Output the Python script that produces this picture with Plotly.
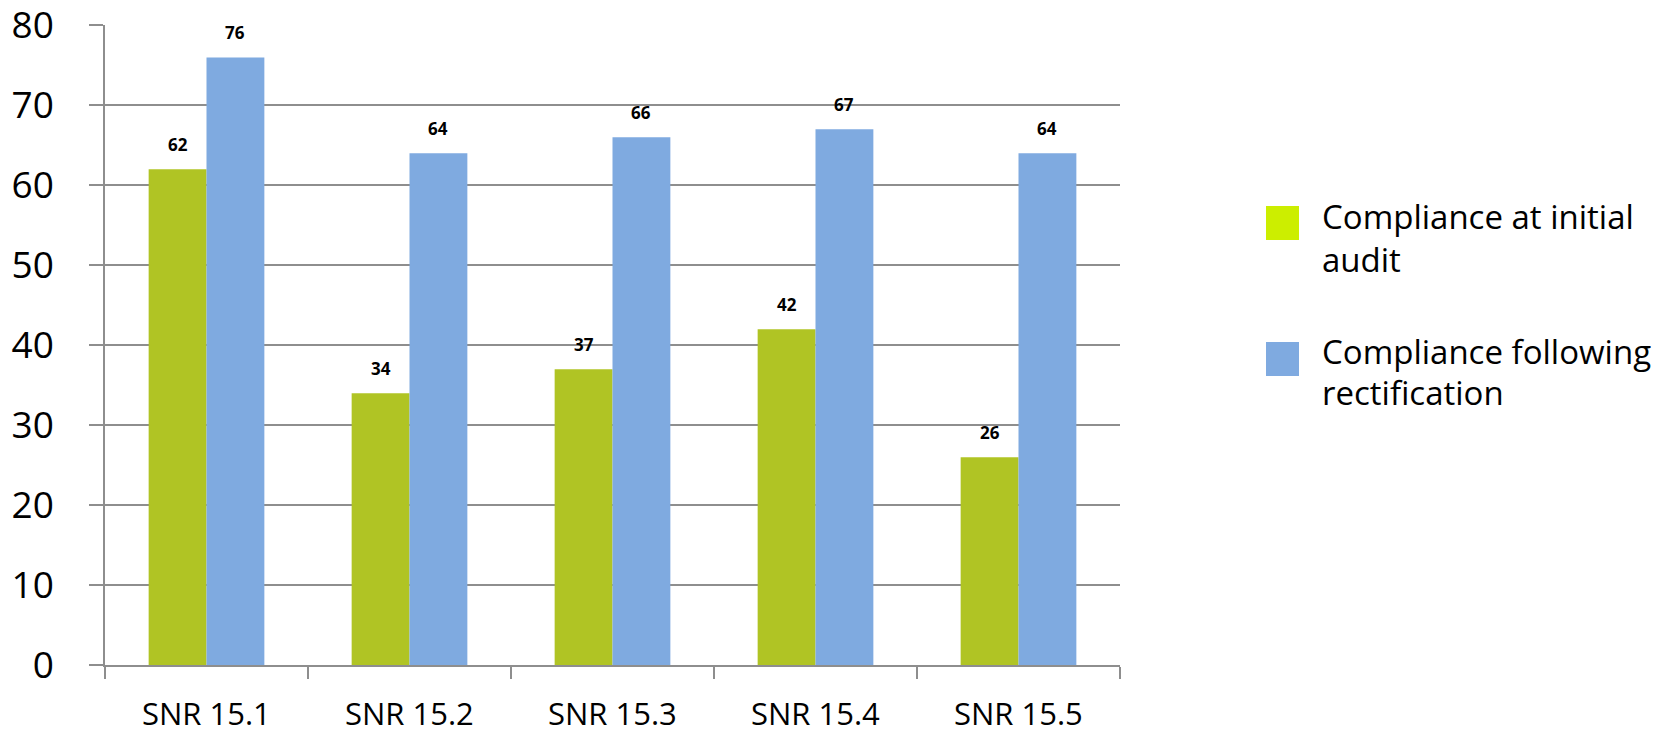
import plotly.graph_objects as go

categories = ["SNR 15.1", "SNR 15.2", "SNR 15.3", "SNR 15.4", "SNR 15.5"]
initial = [62, 34, 37, 42, 26]
rectified = [76, 64, 66, 67, 64]
series_lines = [["Compliance at initial", "audit"], ["Compliance following", "rectification"]]
y_ticks = [0, 10, 20, 30, 40, 50, 60, 70, 80]

GREEN = "#B0C424"
GREEN_LEG = "#CCEE00"
BLUE = "#7FAAE0"
GRID = "#8E8E8E"
FONT = "Open Sans"

OFF = 8  # default page body margin
W, H = 1666 - OFF, 729 - OFF
L, R, T, B = 105 - OFF, 546, 25 - OFF, 64
PW, PH = W - L - R, H - T - B

def px_x(p):
    return (p - OFF - L) / PW

def px_y(p):
    return 1 - (p - OFF - T) / PH

fig = go.Figure()
fig.add_trace(go.Bar(x=categories, y=initial, name="initial", marker=dict(color=GREEN, line=dict(width=0)), showlegend=False))
fig.add_trace(go.Bar(x=categories, y=rectified, name="rectified", marker=dict(color=BLUE, line=dict(width=0)), showlegend=False))

bargap = 0.43
bar_w = PW / len(categories) * (1 - bargap) / 2
annotations = []
for vals, sh in ((initial, -bar_w / 2), (rectified, bar_w / 2)):
    for c, v in zip(categories, vals):
        annotations.append(dict(x=c, y=v, xref="x", yref="y", text=f"<b>{v}</b>", showarrow=False,
                                xshift=sh, yshift=11, yanchor="bottom",
                                font=dict(family=FONT, size=17, color="#000")))

# category labels below the axis
for c in categories:
    annotations.append(dict(x=c, y=0, xref="x", yref="paper", text=c, showarrow=False,
                            yanchor="top", yshift=-25,
                            font=dict(family=FONT, size=31, color="#000")))

# legend drawn manually (large swatches)
shapes = []
leg_items = [(series_lines[0], GREEN_LEG, 206, [216, 259]), (series_lines[1], BLUE, 342, [351, 392])]
for lines, col, top, centers in leg_items:
    shapes.append(dict(type="rect", xref="paper", yref="paper",
                       x0=px_x(1266), x1=px_x(1299), y0=px_y(top + 34), y1=px_y(top),
                       fillcolor=col, line=dict(width=0)))
    for txt, cy in zip(lines, centers):
        annotations.append(dict(xref="paper", yref="paper", x=px_x(1320), y=px_y(cy),
                                xanchor="left", yanchor="middle", align="left", showarrow=False,
                                text=txt, font=dict(family=FONT, size=33, color="#000")))

fig.update_layout(
    width=W, height=H,
    margin=dict(l=L, r=R, t=T, b=B, autoexpand=False),
    paper_bgcolor="white", plot_bgcolor="white",
    barmode="group", bargap=bargap, bargroupgap=0,
    showlegend=False,
    font=dict(family=FONT, color="#000"),
    annotations=annotations, shapes=shapes,
    xaxis=dict(showgrid=False, showline=True, linecolor=GRID, linewidth=1.5,
               ticks="outside", tickson="boundaries", ticklen=12, tickwidth=1.5, tickcolor=GRID,
               showticklabels=False),
    yaxis=dict(range=[0, 80.05], tickvals=y_ticks, showgrid=True, gridcolor=GRID, gridwidth=1.5,
               showline=True, linecolor=GRID, linewidth=1.5, zeroline=False,
               ticks="outside", ticklen=14, tickwidth=1.5, tickcolor=GRID, ticklabeloverflow="allow",
               tickfont=dict(family=FONT, size=37, color="#000"), ticklabelstandoff=28),
)

fig.write_html("out.html")
